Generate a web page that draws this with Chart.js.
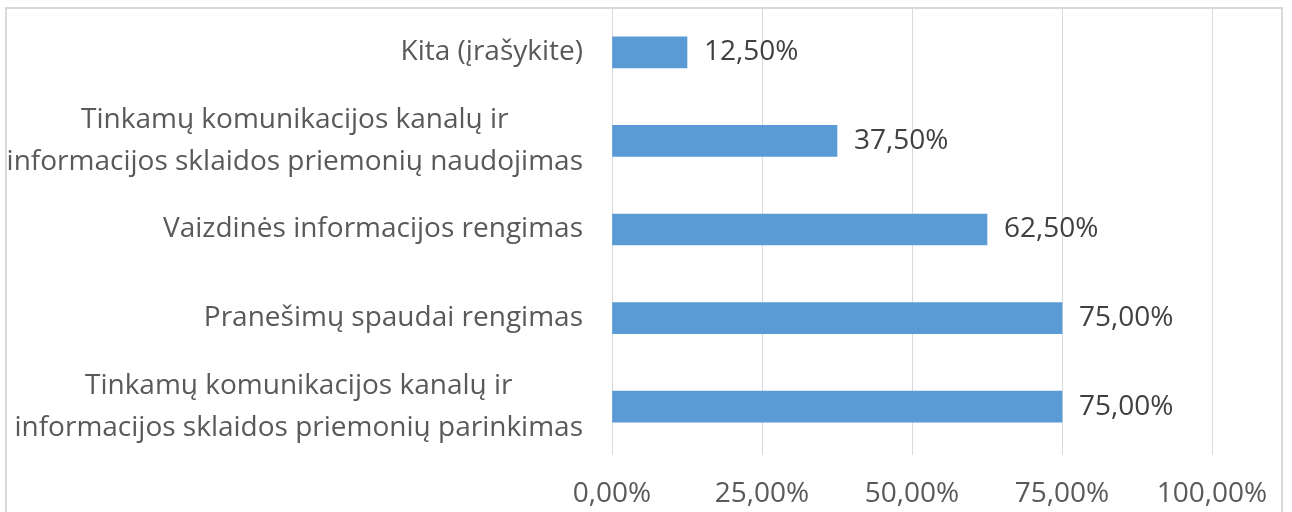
<!DOCTYPE html>
<html>
<head>
<meta charset="utf-8">
<script src="https://cdn.jsdelivr.net/npm/chart.js@4/dist/chart.umd.min.js"></script>
<style>
  html, body { margin: 0; padding: 0; background: #ffffff; }
  #wrap { position: relative; width: 1292px; height: 512px; overflow: hidden; }
  #frame { position: absolute; left: 5px; top: 7px; width: 1278px; height: 520px; border: 2px solid #d9d9d9; box-sizing: border-box; }
  canvas { position: absolute; left: 0; top: 0; }
</style>
</head>
<body>
<div id="wrap">
  <div id="frame"></div>
  <canvas id="c" width="1292" height="512"></canvas>
</div>
<script>
const categories = [
  "Kita (įrašykite)",
  ["Tinkamų komunikacijos kanalų ir", "informacijos sklaidos priemonių naudojimas"],
  "Vaizdinės informacijos rengimas",
  "Pranešimų spaudai rengimas",
  ["Tinkamų komunikacijos kanalų ir", "informacijos sklaidos priemonių parinkimas"]
];
const values = [12.5, 37.5, 62.5, 75, 75];
const tickValues = [0, 25, 50, 75, 100];

const FONT = "'Open Sans', sans-serif";
const fmt = v => v.toFixed(2).replace('.', ',') + '%';

// Category labels: block right-aligned to the axis, lines centred within the block
const categoryLabels = {
  id: 'categoryLabels',
  afterDraw(chart) {
    const ctx = chart.ctx;
    const y = chart.scales.y;
    const right = y.right - 29;
    const lh = 42;
    ctx.save();
    ctx.font = "28px " + FONT;
    ctx.fillStyle = '#595959';
    ctx.textAlign = 'center';
    ctx.textBaseline = 'middle';
    categories.forEach((lab, i) => {
      const lines = Array.isArray(lab) ? lab : [lab];
      const w = Math.max(...lines.map(l => ctx.measureText(l).width));
      const cx = right - w / 2;
      const cy = y.getPixelForValue(i);
      lines.forEach((l, k) => {
        ctx.fillText(l, cx, cy + (k - (lines.length - 1) / 2) * lh);
      });
    });
    ctx.restore();
  }
};

const valueLabels = {
  id: 'valueLabels',
  afterDatasetsDraw(chart) {
    const ctx = chart.ctx;
    const meta = chart.getDatasetMeta(0);
    ctx.save();
    ctx.font = "28px " + FONT;
    ctx.fillStyle = '#404040';
    ctx.textAlign = 'left';
    ctx.textBaseline = 'middle';
    meta.data.forEach((bar, i) => {
      ctx.fillText(fmt(values[i]), bar.x + 17, bar.y);
    });
    ctx.restore();
  }
};

new Chart(document.getElementById('c'), {
  type: 'bar',
  data: {
    labels: categories,
    datasets: [{
      data: values,
      backgroundColor: '#5b9bd5',
      borderWidth: 0,
      barThickness: 31
    }]
  },
  options: {
    indexAxis: 'y',
    responsive: false,
    animation: false,
    layout: { padding: { top: 8, right: 80, left: 0, bottom: 0 } },
    plugins: { legend: { display: false }, tooltip: { enabled: false } },
    scales: {
      x: {
        min: 0, max: 100,
        afterBuildTicks(scale) { scale.ticks = tickValues.map(v => ({ value: v })); },
        afterFit(scale) { scale.height = 61; scale.paddingLeft = 0; scale.paddingRight = 0; },
        grid: { color: '#d9d9d9', lineWidth: 1, tickLength: 4 },
        border: { display: false },
        ticks: {
          padding: 22,
          color: '#595959',
          font: { family: FONT, size: 28 },
          maxRotation: 0,
          autoSkip: false,
          callback: v => fmt(v)
        }
      },
      y: {
        afterFit(scale) { scale.width = 612; scale.paddingTop = 0; scale.paddingBottom = 0; },
        grid: { display: false, drawTicks: false },
        border: { display: true, color: '#d9d9d9', width: 1 },
        ticks: { display: false, autoSkip: false }
      }
    }
  },
  plugins: [valueLabels, categoryLabels]
});
</script>
</body>
</html>
